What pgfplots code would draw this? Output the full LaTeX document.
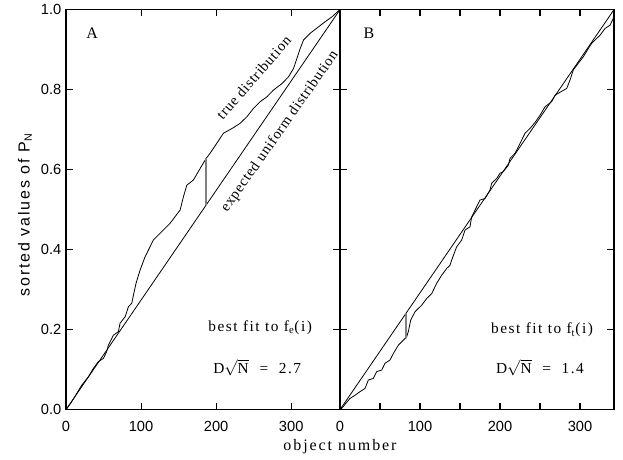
\documentclass[border=0pt]{standalone}
\usepackage{fontspec}
\setmainfont{Liberation Serif}
\setsansfont{Liberation Sans}
\usepackage{pgfplots}
\pgfplotsset{compat=1.18}

\newfontfamily\annfont{Liberation Serif}[LetterSpace=10]
\newfontfamily\rotfont{Liberation Serif}[LetterSpace=5]
\newfontfamily\xlabfont{Liberation Serif}[LetterSpace=12]
\newfontfamily\ylabfont{Liberation Sans}[LetterSpace=12]
\newfontfamily\ticksfont{Liberation Sans}

\pgfplotsset{
  panel/.style={
    scale only axis, width=205.5pt, height=300pt,
    ymin=0, ymax=1, ytick={0,0.2,0.4,0.6,0.8,1},
    tick align=inside, major tick length=5pt, minor tick length=5pt,
    axis line style={line width=0.8pt},
    every tick/.style={black, line width=0.8pt},
    tick label style={font=\fontsize{11}{12}\ticksfont},
    /pgf/number format/assume math mode=true,
    xticklabel style={yshift=-5pt},
    yticklabel style={/pgf/number format/.cd, fixed, fixed zerofill, precision=1},
  },
  curve/.style={black, line width=0.6pt, no marks},
  dline/.style={gray, line width=1pt, no marks},
}

\begin{document}
\begin{tikzpicture}
\path (-49.5pt,-37.1pt) rectangle (417.75pt,307.1pt);

% panel A
\begin{axis}[panel, at={(0pt,0pt)}, anchor=south west,
    xmin=0, xmax=365, xtick={0,100,200,300}]
  \addplot[curve] coordinates {(0,0) (365,1)};
  \addplot[curve] coordinates {
    (0,0) (7,0.018) (14.2,0.040) (20.9,0.061) (29.8,0.082) (36.4,0.103)
    (43.1,0.120) (49.8,0.128) (54.2,0.145) (56.4,0.161) (63.1,0.186)
    (69.8,0.195) (72.0,0.216) (78.7,0.232) (83.1,0.257) (87.6,0.266)
    (89.8,0.286) (93.3,0.316) (98.7,0.349) (105.3,0.382) (116.4,0.424)
    (129.7,0.449) (138.7,0.466) (152,0.499) (156.4,0.532) (160.9,0.561)
    (169.7,0.574) (178.7,0.603) (186.7,0.628) (192,0.641) (200.9,0.666)
    (209.7,0.691) (223.1,0.705) (232,0.716) (240.9,0.732) (249.7,0.753)
    (258.7,0.770) (267.6,0.782) (276.4,0.799) (287.6,0.815) (296.4,0.832)
    (303.1,0.853) (307.6,0.878) (312,0.903) (316.4,0.924) (325.3,0.941)
    (336.4,0.957) (345.3,0.970) (354.3,0.982) (363,0.997) (365,1.0)};
  \addplot[dline] coordinates {(186.7,0.511) (186.7,0.628)};
  \node[font=\fontsize{12}{14}\selectfont] at (axis cs:34.7,0.941) {A};
  \node[font=\fontsize{11}{12}\rotfont, rotate=49] at (axis cs:250,0.83) {true distribution};
  \node[font=\fontsize{11}{12}\rotfont, rotate=55] at (axis cs:285,0.695) {expected uniform distribution};
  \node[font=\fontsize{11.5}{12}\annfont] at (axis cs:258.7,0.206) {best fit to f\textsubscript{e}(i)};
  \node[font=\fontsize{11.5}{12}\annfont] at (axis cs:254.7,0.106) {D$\sqrt{\mbox{N}}$~~=~~2.7};
\end{axis}

% panel B
\begin{axis}[panel, at={(205.5pt,0pt)}, anchor=south west,
    xmin=0, xmax=342.5, xtick={0,100,200,300}, minor xtick={50,150,250},
    yticklabels={}]
  \addplot[curve] coordinates {(0,0) (342.5,1)};
  \addplot[curve] coordinates {
    (0,0) (2,0.003) (12.5,0.028) (18.8,0.036) (25,0.045) (31.3,0.053)
    (35.4,0.074) (41.6,0.078) (45.9,0.095) (52.1,0.099) (56.3,0.116)
    (62.5,0.124) (66.6,0.140) (72.9,0.161) (81.3,0.178) (83,0.180)
    (85.4,0.195) (88.4,0.224) (93.8,0.245) (102.1,0.261) (108.4,0.278)
    (114.6,0.290) (120.9,0.316) (127.1,0.336) (133.4,0.353) (137.5,0.361)
    (139.6,0.374) (145.8,0.407) (152.1,0.424) (156.3,0.449) (162.5,0.457)
    (164.6,0.482) (168.8,0.499) (175,0.524) (181.3,0.528) (187.5,0.549)
    (189.6,0.566) (195.9,0.578) (200,0.591) (204.1,0.595) (210.4,0.611)
    (212.5,0.628) (218.8,0.641) (222.9,0.657) (227.1,0.674) (231.3,0.691)
    (237.5,0.703) (243.8,0.718) (250,0.736) (256.3,0.757) (264.6,0.770)
    (268.8,0.786) (272.9,0.791) (283.4,0.803) (287.5,0.824) (291.6,0.849)
    (297.9,0.866) (304.1,0.882) (310.4,0.903) (314.6,0.916) (320.9,0.928)
    (325,0.936) (331.3,0.953) (337.5,0.961) (341.6,0.978) (342.5,1.0)};
  \addplot[dline] coordinates {(82.5,0.179) (82.5,0.241)};
  \node[font=\fontsize{12}{14}\selectfont] at (axis cs:36.3,0.941) {B};
  \node[font=\fontsize{11.5}{12}\annfont] at (axis cs:252.5,0.199) {best fit to f\textsubscript{t}(i)};
  \node[font=\fontsize{11.5}{12}\annfont] at (axis cs:250,0.106) {D$\sqrt{\mbox{N}}$~~=~~1.4};
\end{axis}

\node[font=\fontsize{12}{14}\xlabfont, anchor=base] at (205.5pt,-31pt) {object number};
\node[font=\fontsize{12}{14}\ylabfont, rotate=90] at (-30.75pt,146pt) {sorted values of P\textsubscript{N}};
\end{tikzpicture}
\end{document}
